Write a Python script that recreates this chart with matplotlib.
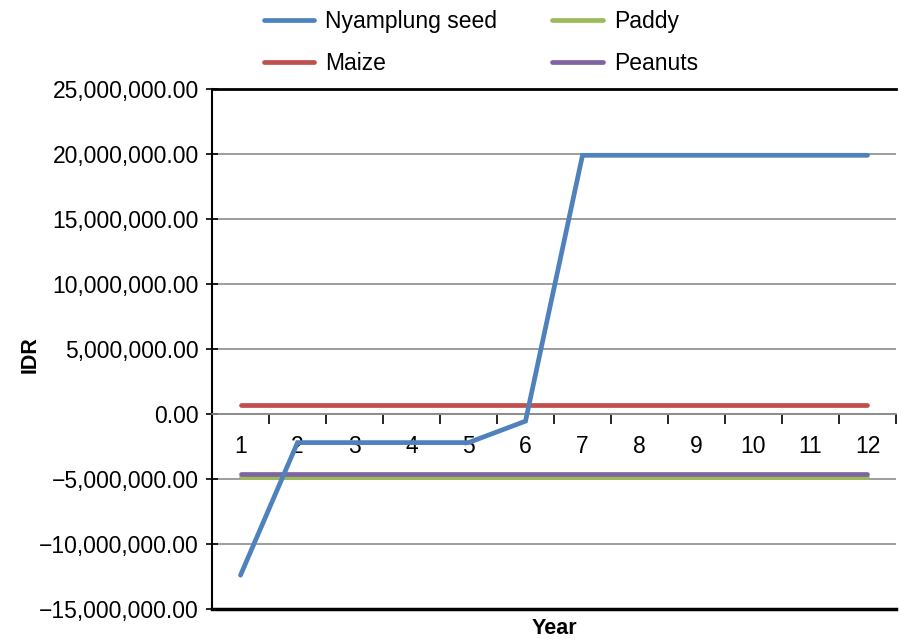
import matplotlib
matplotlib.use("Agg")
import matplotlib.pyplot as plt
from matplotlib.ticker import FuncFormatter, FixedLocator

plt.rcParams['font.family'] = ['Liberation Sans', 'DejaVu Sans']

years = [str(i) for i in range(1, 13)]
nyamplung = [-12.4e6, -2.2e6, -2.2e6, -2.2e6, -2.2e6, -0.55e6,
             19.9e6, 19.9e6, 19.9e6, 19.9e6, 19.9e6, 19.9e6]
maize = [0.7e6] * 12
paddy = [-4.85e6] * 12
peanuts = [-4.6e6] * 12

series_names = ["Nyamplung seed", "Maize", "Paddy", "Peanuts"]
colors = ["#4F81BD", "#C0504D", "#9BBB59", "#8064A2"]

fig = plt.figure(figsize=(9.01, 6.42), dpi=100)
ax = fig.add_axes([212/901, 1-609/642, (896-212)/901, (609-89)/642])

x = list(range(1, 13))
lw = 3.4
l_m, = ax.plot(x, maize, color=colors[1], lw=lw, solid_capstyle='round', zorder=3)
l_pa, = ax.plot(x, paddy, color=colors[2], lw=lw, solid_capstyle='round', zorder=3)
l_pe, = ax.plot(x, peanuts, color=colors[3], lw=lw, solid_capstyle='round', zorder=4)
l_n, = ax.plot(x, nyamplung, color=colors[0], lw=lw, solid_capstyle='round',
               solid_joinstyle='miter', zorder=5)

ax.set_xlim(0.5, 12.5)
ax.set_ylim(-15e6, 25e6)
ax.set_yticks([i * 5e6 for i in range(-3, 6)])
ax.yaxis.set_major_formatter(FuncFormatter(lambda v, p: f"{v:,.2f}".replace("-", "\u2212")))
ax.tick_params(axis='y', direction='inout', length=9, width=1.2, pad=5, labelsize=16.5)
ax.grid(axis='y', color='#8c8c8c', lw=1.2, zorder=1)

# category axis crossing at zero
ax.spines['bottom'].set_position(('data', 0))
ax.spines['bottom'].set_color('#8c8c8c')
ax.spines['bottom'].set_linewidth(1.2)
ax.spines['right'].set_visible(False)
ax.spines['top'].set_color('black')
ax.spines['top'].set_linewidth(2)
ax.spines['left'].set_linewidth(1.5)
ax.xaxis.set_major_locator(FixedLocator([i + 0.5 for i in range(0, 13)]))
ax.xaxis.set_major_formatter(FuncFormatter(lambda v, p: ""))
ax.xaxis.set_minor_locator(FixedLocator(x))
ax.set_xticklabels(years, minor=True)
ax.tick_params(axis='x', which='major', direction='out', length=7, width=1.2, color='black')
ax.tick_params(axis='x', which='minor', length=0, pad=15, labelsize=16.5)
ax.axhline(-15e6, color='black', lw=2.5, zorder=6, clip_on=False)

fig.text(30/901, 1-355/642, "IDR", rotation=90, ha='center', va='center',
         fontsize=15.5, fontweight='bold')
fig.text(554/901, 1-629/642, "Year", ha='center', va='center',
         fontsize=15.5, fontweight='bold')

fig.legend([l_n, l_m, l_pa, l_pe], series_names, ncol=2, frameon=False,
           loc='center', bbox_to_anchor=(481/901, 1-42.5/642), fontsize=16.5,
           handlelength=2.2, columnspacing=2.4, labelspacing=0.8, handletextpad=0.5)

fig.savefig("out.png", dpi=100)
